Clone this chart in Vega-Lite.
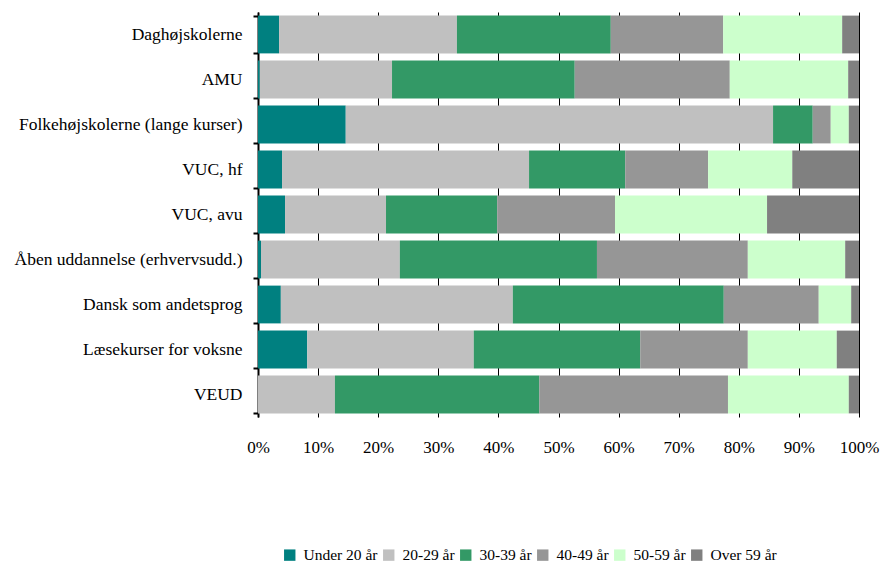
{
  "$schema": "https://vega.github.io/schema/vega-lite/v6.json",
  "width": 601,
  "height": 405,
  "autosize": "none",
  "padding": {"left": 258, "top": 12, "right": 32, "bottom": 148},
  "background": "white",
  "config": {
    "font": "Liberation Serif",
    "view": {"stroke": null},
    "axis": {"labelFont": "Liberation Serif"},
    "legend": {"labelFont": "Liberation Serif"}
  },
  "data": {
    "values": [
      {"uddannelse": "Daghøjskolerne", "alder": "Under 20 år", "andel": 3.5},
      {"uddannelse": "Daghøjskolerne", "alder": "20-29 år", "andel": 29.6},
      {"uddannelse": "Daghøjskolerne", "alder": "30-39 år", "andel": 25.6},
      {"uddannelse": "Daghøjskolerne", "alder": "40-49 år", "andel": 18.7},
      {"uddannelse": "Daghøjskolerne", "alder": "50-59 år", "andel": 19.8},
      {"uddannelse": "Daghøjskolerne", "alder": "Over 59 år", "andel": 2.8},
      {"uddannelse": "AMU", "alder": "Under 20 år", "andel": 0.3},
      {"uddannelse": "AMU", "alder": "20-29 år", "andel": 22.0},
      {"uddannelse": "AMU", "alder": "30-39 år", "andel": 30.4},
      {"uddannelse": "AMU", "alder": "40-49 år", "andel": 25.8},
      {"uddannelse": "AMU", "alder": "50-59 år", "andel": 19.7},
      {"uddannelse": "AMU", "alder": "Over 59 år", "andel": 1.8},
      {"uddannelse": "Folkehøjskolerne (lange kurser)", "alder": "Under 20 år", "andel": 14.6},
      {"uddannelse": "Folkehøjskolerne (lange kurser)", "alder": "20-29 år", "andel": 71.1},
      {"uddannelse": "Folkehøjskolerne (lange kurser)", "alder": "30-39 år", "andel": 6.6},
      {"uddannelse": "Folkehøjskolerne (lange kurser)", "alder": "40-49 år", "andel": 3.0},
      {"uddannelse": "Folkehøjskolerne (lange kurser)", "alder": "50-59 år", "andel": 3.0},
      {"uddannelse": "Folkehøjskolerne (lange kurser)", "alder": "Over 59 år", "andel": 1.7},
      {"uddannelse": "VUC, hf", "alder": "Under 20 år", "andel": 4.0},
      {"uddannelse": "VUC, hf", "alder": "20-29 år", "andel": 41.1},
      {"uddannelse": "VUC, hf", "alder": "30-39 år", "andel": 16.0},
      {"uddannelse": "VUC, hf", "alder": "40-49 år", "andel": 13.8},
      {"uddannelse": "VUC, hf", "alder": "50-59 år", "andel": 14.0},
      {"uddannelse": "VUC, hf", "alder": "Over 59 år", "andel": 11.1},
      {"uddannelse": "VUC, avu", "alder": "Under 20 år", "andel": 4.5},
      {"uddannelse": "VUC, avu", "alder": "20-29 år", "andel": 16.8},
      {"uddannelse": "VUC, avu", "alder": "30-39 år", "andel": 18.5},
      {"uddannelse": "VUC, avu", "alder": "40-49 år", "andel": 19.6},
      {"uddannelse": "VUC, avu", "alder": "50-59 år", "andel": 25.3},
      {"uddannelse": "VUC, avu", "alder": "Over 59 år", "andel": 15.3},
      {"uddannelse": "Åben uddannelse (erhvervsudd.)", "alder": "Under 20 år", "andel": 0.5},
      {"uddannelse": "Åben uddannelse (erhvervsudd.)", "alder": "20-29 år", "andel": 23.1},
      {"uddannelse": "Åben uddannelse (erhvervsudd.)", "alder": "30-39 år", "andel": 32.8},
      {"uddannelse": "Åben uddannelse (erhvervsudd.)", "alder": "40-49 år", "andel": 25.1},
      {"uddannelse": "Åben uddannelse (erhvervsudd.)", "alder": "50-59 år", "andel": 16.2},
      {"uddannelse": "Åben uddannelse (erhvervsudd.)", "alder": "Over 59 år", "andel": 2.3},
      {"uddannelse": "Dansk som andetsprog", "alder": "Under 20 år", "andel": 3.8},
      {"uddannelse": "Dansk som andetsprog", "alder": "20-29 år", "andel": 38.6},
      {"uddannelse": "Dansk som andetsprog", "alder": "30-39 år", "andel": 35.1},
      {"uddannelse": "Dansk som andetsprog", "alder": "40-49 år", "andel": 15.8},
      {"uddannelse": "Dansk som andetsprog", "alder": "50-59 år", "andel": 5.4},
      {"uddannelse": "Dansk som andetsprog", "alder": "Over 59 år", "andel": 1.3},
      {"uddannelse": "Læsekurser for voksne", "alder": "Under 20 år", "andel": 8.2},
      {"uddannelse": "Læsekurser for voksne", "alder": "20-29 år", "andel": 27.7},
      {"uddannelse": "Læsekurser for voksne", "alder": "30-39 år", "andel": 27.7},
      {"uddannelse": "Læsekurser for voksne", "alder": "40-49 år", "andel": 17.9},
      {"uddannelse": "Læsekurser for voksne", "alder": "50-59 år", "andel": 14.8},
      {"uddannelse": "Læsekurser for voksne", "alder": "Over 59 år", "andel": 3.7},
      {"uddannelse": "VEUD", "alder": "Under 20 år", "andel": 0.0},
      {"uddannelse": "VEUD", "alder": "20-29 år", "andel": 12.8},
      {"uddannelse": "VEUD", "alder": "30-39 år", "andel": 34.0},
      {"uddannelse": "VEUD", "alder": "40-49 år", "andel": 31.4},
      {"uddannelse": "VEUD", "alder": "50-59 år", "andel": 20.1},
      {"uddannelse": "VEUD", "alder": "Over 59 år", "andel": 1.7}
    ]
  },
  "transform": [
    {"window": [{"op": "row_number", "as": "rang"}], "groupby": ["uddannelse"]}
  ],
  "mark": {"type": "bar"},
  "encoding": {
    "y": {
      "field": "uddannelse",
      "type": "nominal",
      "sort": null,
      "scale": {"paddingInner": 0.16, "paddingOuter": 0.08},
      "axis": {
        "title": null,
        "domainColor": "#000000",
        "domainWidth": 2,
        "tickColor": "#000000",
        "tickWidth": 2,
        "tickSize": 5,
        "tickBand": "extent",
        "labelFont": "Liberation Serif",
        "labelFontSize": 17.5,
        "labelColor": "#000000",
        "labelPadding": 11,
        "labelLimit": 300
      }
    },
    "x": {
      "field": "andel",
      "type": "quantitative",
      "stack": "normalize",
      "scale": {"domain": [0, 1], "nice": false},
      "axis": {
        "title": null,
        "values": [0, 0.1, 0.2, 0.3, 0.4, 0.5, 0.6, 0.7, 0.8, 0.9, 1],
        "format": ".0%",
        "domain": false,
        "ticks": false,
        "grid": true,
        "gridColor": "#000000",
        "gridWidth": 1,
        "labelFont": "Liberation Serif",
        "labelFontSize": 17,
        "labelColor": "#000000",
        "labelPadding": 22,
        "labelFlush": false
      }
    },
    "order": {"field": "rang", "type": "quantitative", "sort": "ascending"},
    "color": {
      "field": "alder",
      "type": "nominal",
      "scale": {
        "domain": ["Under 20 år", "20-29 år", "30-39 år", "40-49 år", "50-59 år", "Over 59 år"],
        "range": ["#008080", "#C0C0C0", "#339966", "#969696", "#CCFFCC", "#808080"]
      },
      "legend": {
        "title": null,
        "orient": "none",
        "direction": "horizontal",
        "legendX": 24,
        "legendY": 535,
        "symbolType": "square",
        "symbolSize": 130,
        "symbolStrokeWidth": 0,
        "symbolOpacity": 1,
        "labelFont": "Liberation Serif",
        "labelFontSize": 15.5,
        "labelColor": "#000000",
        "labelOffset": 6,
        "columnPadding": 3
      }
    }
  }
}
